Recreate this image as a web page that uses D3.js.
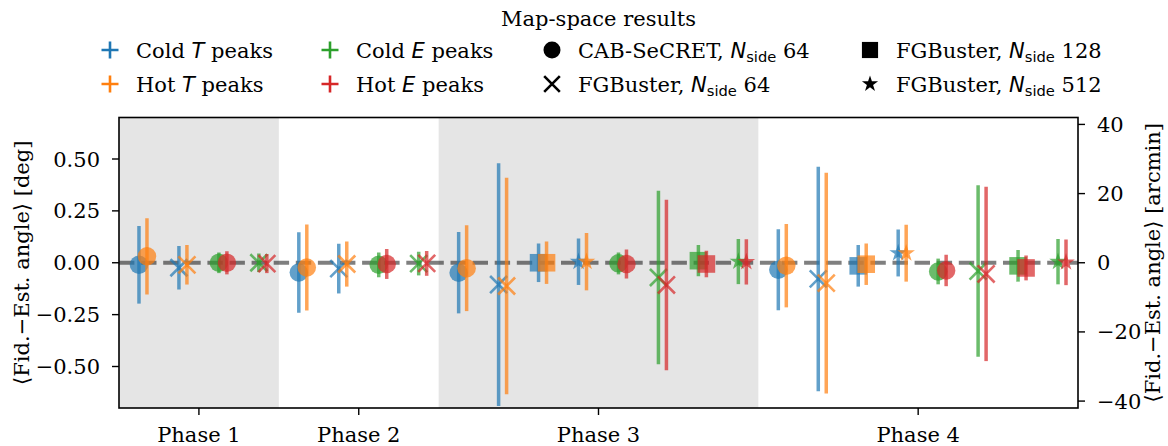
<!DOCTYPE html>
<html><head><meta charset="utf-8">
<script src="https://cdn.jsdelivr.net/npm/d3@7"></script>
<style>body{margin:0;background:#fff}svg{display:block}text{font-family:"DejaVu Serif",serif;fill:#000}</style>
</head><body><svg id="c" width="1168" height="446"></svg>
<script>
// ---- data ----
const phases = ["Phase 1", "Phase 2", "Phase 3", "Phase 4"];
const phaseMethods = [
  ["CAB64", "FGB64"],
  ["CAB64", "FGB64"],
  ["CAB64", "FGB64", "FGB128", "FGB512"],
  ["CAB64", "FGB64", "FGB128", "FGB512"]
];
// values listed per (phase, method) in order of phaseMethods, in degrees
const coldTMean = [-0.010, -0.024, -0.047, -0.028, -0.048, -0.105, 0.000, 0.005, -0.034, -0.078, -0.015, 0.047];
const coldTErr  = [0.187, 0.105, 0.194, 0.120, 0.196, 0.585, 0.093, 0.112, 0.195, 0.541, 0.100, 0.113];
const hotTMean  = [0.031, -0.010, -0.023, -0.006, -0.026, -0.112, 0.000, 0.005, -0.014, -0.098, -0.007, 0.046];
const hotTErr   = [0.184, 0.095, 0.207, 0.109, 0.207, 0.522, 0.102, 0.138, 0.201, 0.532, 0.100, 0.137];
const coldEMean = [0.000, 0.000, -0.010, -0.004, -0.003, -0.071, 0.010, 0.006, -0.042, -0.040, -0.015, 0.005];
const coldEErr  = [0.050, 0.045, 0.060, 0.057, 0.053, 0.418, 0.075, 0.109, 0.062, 0.413, 0.076, 0.109];
const hotEMean  = [0.000, -0.004, -0.006, -0.003, -0.006, -0.107, -0.006, 0.004, -0.037, -0.054, -0.025, 0.002];
const hotEErr   = [0.056, 0.046, 0.072, 0.060, 0.070, 0.411, 0.064, 0.109, 0.076, 0.420, 0.060, 0.110];
const leftTicks = [-0.5, -0.25, 0, 0.25, 0.5];
const leftTickLabels = ["\u22120.50", "\u22120.25", "0.00", "0.25", "0.50"];
const rightTicks = [-40, -20, 0, 20, 40];
const rightTickLabels = ["\u221240", "\u221220", "0", "20", "40"];

const colors = {coldT: "#1f77b4", hotT: "#ff7f0e", coldE: "#2ca02c", hotE: "#d62728"};
const methodShape = {CAB64: "circle", FGB64: "x", FGB128: "square", FGB512: "star"};

// ---- layout ----
const svg = d3.select("#c");
const L = 119, R = 1078, T = 117.5, B = 408;
const x = d3.scaleLinear().domain([0, 24]).range([L, R]);
const y = d3.scaleLinear().domain([-0.7, 0.7]).range([B, T]);
const yR = d3.scaleLinear().domain([-42, 42]).range([B, T]);

const phaseStart = [];
let acc = 0;
phaseMethods.forEach(m => { phaseStart.push(acc); acc += 2 * m.length; });
phaseStart.push(acc);

svg.append("defs").append("clipPath").attr("id", "clip").append("rect")
  .attr("x", L).attr("y", T).attr("width", R - L).attr("height", B - T);

phases.forEach((p, i) => {
  if (i % 2 === 0) {
    svg.append("rect").attr("x", x(phaseStart[i])).attr("y", T)
      .attr("width", x(phaseStart[i + 1]) - x(phaseStart[i])).attr("height", B - T)
      .attr("fill", "#e5e5e5");
  }
});

svg.append("line").attr("x1", L).attr("x2", R).attr("y1", y(0)).attr("y2", y(0))
  .attr("stroke", "#000").attr("stroke-opacity", 0.5).attr("stroke-width", 4)
  .attr("stroke-dasharray", "15.4 6.7");

const points = [];
let k = 0;
phaseMethods.forEach((methods, pi) => {
  const n = methods.length;
  methods.forEach((m, mi) => {
    const base = phaseStart[pi];
    points.push({xv: base + mi + 0.5, mean: coldTMean[k], err: coldTErr[k], c: colors.coldT, shape: methodShape[m]});
    points.push({xv: base + mi + 0.7, mean: hotTMean[k], err: hotTErr[k], c: colors.hotT, shape: methodShape[m]});
    points.push({xv: base + n + mi + 0.5, mean: coldEMean[k], err: coldEErr[k], c: colors.coldE, shape: methodShape[m]});
    points.push({xv: base + n + mi + 0.7, mean: hotEMean[k], err: hotEErr[k], c: colors.hotE, shape: methodShape[m]});
    k++;
  });
});
points.sort((a, b) => a.xv - b.xv);

function drawMarker(g, shape, color, size, opacity) {
  const s = size;
  if (shape === "circle") {
    g.append("circle").attr("r", s / 2).attr("fill", color).attr("fill-opacity", opacity);
  } else if (shape === "square") {
    const q = s * 0.95;
    g.append("rect").attr("x", -q / 2).attr("y", -q / 2).attr("width", q).attr("height", q)
      .attr("fill", color).attr("fill-opacity", opacity);
  } else if (shape === "star") {
    const r = s * 0.5;
    g.append("path").attr("d", d3.symbol(d3.symbolStar, r * r / 0.89081309152928522810)())
      .attr("fill", color).attr("fill-opacity", opacity);
  } else if (shape === "x") {
    const h = s * 0.46;
    g.append("path").attr("d", `M${-h},${-h}L${h},${h}M${-h},${h}L${h},${-h}`)
      .attr("stroke", color).attr("stroke-opacity", opacity).attr("stroke-width", 2.6).attr("fill", "none");
  } else if (shape === "plus") {
    const h = s / 2;
    g.append("path").attr("d", `M${-h},0L${h},0M0,${-h}L0,${h}`)
      .attr("stroke", color).attr("stroke-opacity", opacity).attr("stroke-width", 2.6).attr("fill", "none");
  }
}

const plotG = svg.append("g").attr("clip-path", "url(#clip)");
points.forEach(p => {
  const g = plotG.append("g");
  g.append("line").attr("x1", x(p.xv)).attr("x2", x(p.xv))
    .attr("y1", y(p.mean - p.err)).attr("y2", y(p.mean + p.err))
    .attr("stroke", p.c).attr("stroke-opacity", 0.7).attr("stroke-width", 3.5);
  const mg = g.append("g").attr("transform", `translate(${x(p.xv)},${y(p.mean)})`);
  drawMarker(mg, p.shape, p.c, 18.5, 0.7);
});

svg.append("rect").attr("x", L).attr("y", T).attr("width", R - L).attr("height", B - T)
  .attr("fill", "none").attr("stroke", "#000").attr("stroke-width", 1.6);

const FS = 21;
leftTicks.forEach((t, i) => {
  svg.append("line").attr("x1", L - 7).attr("x2", L).attr("y1", y(t)).attr("y2", y(t))
    .attr("stroke", "#000").attr("stroke-width", 1.4);
  svg.append("text").attr("x", L - 19).attr("y", y(t)).attr("dy", "0.36em")
    .attr("text-anchor", "end").attr("font-size", FS).text(leftTickLabels[i]);
});
rightTicks.forEach((t, i) => {
  svg.append("line").attr("x1", R).attr("x2", R + 7).attr("y1", yR(t)).attr("y2", yR(t))
    .attr("stroke", "#000").attr("stroke-width", 1.4);
  svg.append("text").attr("x", R + 19).attr("y", yR(t)).attr("dy", "0.36em")
    .attr("text-anchor", "start").attr("font-size", FS).text(rightTickLabels[i]);
});
phases.forEach((p, i) => {
  const cx = x((phaseStart[i] + phaseStart[i + 1]) / 2);
  svg.append("line").attr("x1", cx).attr("x2", cx).attr("y1", B).attr("y2", B + 7)
    .attr("stroke", "#000").attr("stroke-width", 1.4);
  svg.append("text").attr("x", cx).attr("y", 442).attr("text-anchor", "middle")
    .attr("font-size", FS).text(p);
});

function angleLabel(g, unit) {
  const t = g.append("text").attr("font-size", FS).attr("text-anchor", "middle").attr("dy", "0.36em");
  t.append("tspan").attr("font-family", "DejaVu Sans").text("\u27E8");
  t.append("tspan").text("Fid.");
  t.append("tspan").attr("font-family", "DejaVu Sans").text("\u2212");
  t.append("tspan").text("Est. angle");
  t.append("tspan").attr("font-family", "DejaVu Sans").text("\u27E9");
  t.append("tspan").text(" [" + unit + "]");
}
angleLabel(svg.append("g").attr("transform", `translate(21,${(T + B) / 2}) rotate(-90)`), "deg");
angleLabel(svg.append("g").attr("transform", `translate(1152,${(T + B) / 2}) rotate(-90)`), "arcmin");

svg.append("text").attr("x", (L + R) / 2).attr("y", 18).attr("dy", "0.36em")
  .attr("text-anchor", "middle").attr("font-size", FS).text("Map-space results");

const legendItems = [
  {col: 0, row: 0, shape: "plus", color: colors.coldT, parts: [["Cold ", 0], ["T", 1], [" peaks", 0]]},
  {col: 0, row: 1, shape: "plus", color: colors.hotT, parts: [["Hot ", 0], ["T", 1], [" peaks", 0]]},
  {col: 1, row: 0, shape: "plus", color: colors.coldE, parts: [["Cold ", 0], ["E", 1], [" peaks", 0]]},
  {col: 1, row: 1, shape: "plus", color: colors.hotE, parts: [["Hot ", 0], ["E", 1], [" peaks", 0]]},
  {col: 2, row: 0, shape: "circle", color: "#000", parts: [["CAB-SeCRET, ", 0], ["N", 1], ["side", 2], [" 64", 3]]},
  {col: 2, row: 1, shape: "x", color: "#000", parts: [["FGBuster, ", 0], ["N", 1], ["side", 2], [" 64", 3]]},
  {col: 3, row: 0, shape: "square", color: "#000", parts: [["FGBuster, ", 0], ["N", 1], ["side", 2], [" 128", 3]]},
  {col: 3, row: 1, shape: "star", color: "#000", parts: [["FGBuster, ", 0], ["N", 1], ["side", 2], [" 512", 3]]}
];
const colTextX = [136, 356, 578, 896];
const rowY = [50, 84];
legendItems.forEach(it => {
  const tx = colTextX[it.col], ty = rowY[it.row];
  const mg = svg.append("g").attr("transform", `translate(${tx - 26},${ty})`);
  const sz = it.shape === "plus" ? 17 : (it.shape === "star" ? 17 : 17);
  drawMarker(mg, it.shape, it.color, sz, 1);
  const t = svg.append("text").attr("x", tx).attr("y", ty + 7.5).attr("font-size", FS);
  it.parts.forEach(([s, kind]) => {
    const sp = t.append("tspan").text(s);
    if (kind === 1) sp.attr("font-family", "DejaVu Sans").attr("font-style", "italic");
    if (kind === 2) sp.attr("font-family", "DejaVu Sans").attr("font-size", 14.7).attr("dy", 4.5);
    if (kind === 3) sp.attr("dy", -4.5);
  });
});
</script></body></html>
